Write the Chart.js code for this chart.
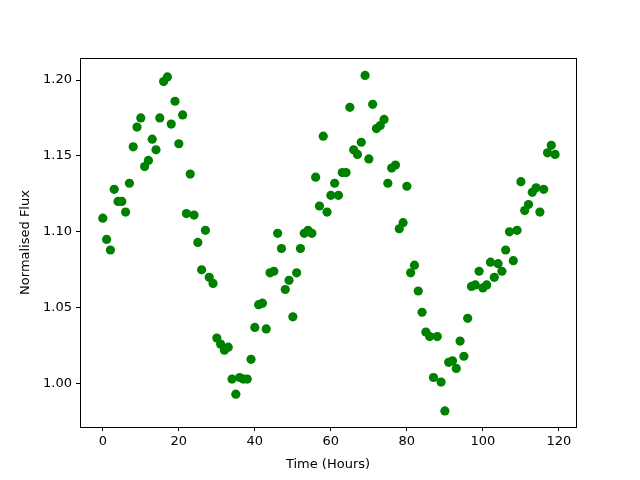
<!DOCTYPE html>
<html>
<head>
<meta charset="utf-8">
<script src="https://cdn.jsdelivr.net/npm/chart.js@4"></script>
<style>
  body { margin: 0; background: #fff; }
  #wrap { width: 640px; height: 480px; }
</style>
</head>
<body>
<div id="wrap"><canvas id="myChart" width="640" height="480"></canvas></div>
<script>
// hours since start of observation
var hours = [];
for (var h = 0; h < 120; h++) hours.push(h);

// normalised flux, one value per hour
var flux = [
    1.109, 1.095, 1.088, 1.128, 1.120, 1.120, 1.113, 1.132, 1.156, 1.169,
    1.175, 1.143, 1.147, 1.161, 1.154, 1.175, 1.199, 1.202, 1.171, 1.186,
    1.158, 1.177, 1.112, 1.138, 1.111, 1.093, 1.075, 1.101, 1.070, 1.066,
    1.030, 1.026, 1.022, 1.024, 1.003, 0.993, 1.004, 1.003, 1.003, 1.016,
    1.037, 1.052, 1.053, 1.036, 1.073, 1.074, 1.099, 1.089, 1.062, 1.068,
    1.044, 1.073, 1.089, 1.099, 1.101, 1.099, 1.136, 1.117, 1.163, 1.113,
    1.124, 1.132, 1.124, 1.139, 1.139, 1.182, 1.154, 1.151, 1.159, 1.203,
    1.148, 1.184, 1.168, 1.170, 1.174, 1.132, 1.142, 1.144, 1.102, 1.106,
    1.130, 1.073, 1.078, 1.061, 1.047, 1.034, 1.031, 1.004, 1.031, 1.001,
    0.982, 1.014, 1.015, 1.010, 1.028, 1.018, 1.043, 1.064, 1.065, 1.074,
    1.063, 1.065, 1.080, 1.070, 1.079, 1.074, 1.088, 1.100, 1.081, 1.101,
    1.133, 1.114, 1.118, 1.126, 1.129, 1.113, 1.128, 1.152, 1.157, 1.151
];

var xTicks = [0, 20, 40, 60, 80, 100, 120];
var yTicks = [1.00, 1.05, 1.10, 1.15, 1.20];

var points = hours.map(function(h, i) { return { x: h, y: flux[i] }; });

// box around the plot area like matplotlib spines
var frame = {
    id: 'frame',
    afterDraw: function(chart) {
        var a = chart.chartArea, c = chart.ctx;
        c.save();
        c.strokeStyle = '#000';
        c.lineWidth = 1;
        c.strokeRect(a.left + 0.5, a.top + 0.5, a.right - a.left, a.bottom - a.top);
        c.restore();
    }
};

Chart.defaults.font.family = 'DejaVu Sans';
Chart.defaults.font.size = 13;
Chart.defaults.color = '#000';

var ctx = document.getElementById('myChart').getContext('2d');
var myChart = new Chart(ctx, {
    type: 'scatter',
    data: {
        datasets: [{
            label: 'Flux',
            data: points,
            backgroundColor: '#008000',
            borderColor: '#008000',
            pointRadius: 4.6,
            pointBorderWidth: 0
        }]
    },
    options: {
        responsive: false,
        animation: false,
        layout: { padding: { left: 0, top: 58, right: 64, bottom: 0 } },
        plugins: {
            legend: { display: false },
            tooltip: { enabled: false }
        },
        scales: {
            x: {
                min: -6,
                max: 124.5,
                afterBuildTicks: function(s) { s.ticks = xTicks.map(function(v) { return { value: v }; }); },
                afterFit: function(s) { s.height = 53; },
                grid: { drawOnChartArea: false, tickLength: 4, color: '#000' },
                border: { color: '#000' },
                ticks: { padding: 3 },
                title: { display: true, text: 'Time (Hours)', padding: { top: 0, bottom: 8 } }
            },
            y: {
                min: 0.9714,
                max: 1.2145,
                afterBuildTicks: function(s) { s.ticks = yTicks.map(function(v) { return { value: v }; }); },
                afterFit: function(s) { s.width = 80; },
                grid: { drawOnChartArea: false, tickLength: 4, color: '#000' },
                border: { color: '#000' },
                ticks: {
                    padding: 4,
                    callback: function(v) { return v.toFixed(2); }
                },
                title: { display: true, text: 'Normalised Flux', padding: { top: 18, bottom: 0 } }
            }
        }
    },
    plugins: [frame]
});
</script>
</body>
</html>
